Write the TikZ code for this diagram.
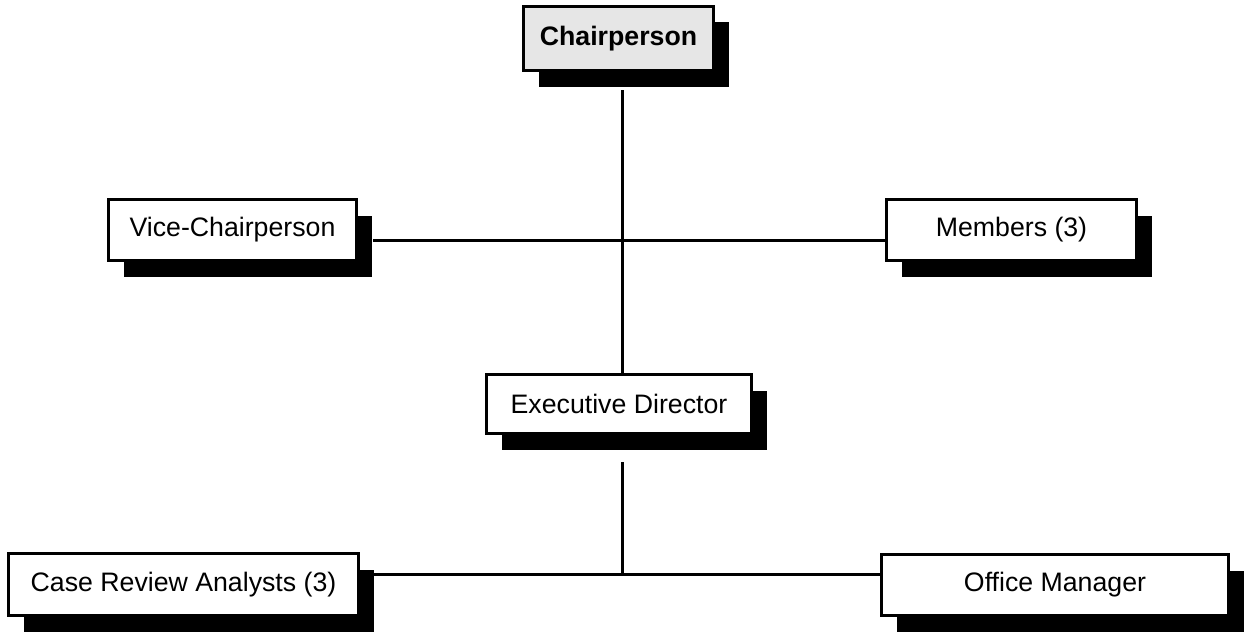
\documentclass[tikz,border=0pt]{standalone}
\usepackage{fontspec}
\setmainfont{Liberation Sans}
\usetikzlibrary{shadows}
\begin{document}
\begin{tikzpicture}[x=1pt,y=-1pt,
  orgbox/.style={draw=black, line width=3pt, fill=white, inner sep=0pt,
    font=\fontsize{26.7}{32}\selectfont,
    drop shadow={fill=black, opacity=1, shadow xshift=15pt, shadow yshift=-16pt}},
  conn/.style={line width=3pt}]
\useasboundingbox (0,0) rectangle (1244,634);
% nodes
\node[orgbox, fill={rgb,255:red,230;green,230;blue,230}, font=\fontsize{26.7}{32}\selectfont\bfseries,
  minimum width=190pt, minimum height=64pt] (chair) at (618.5,38.5) {Chairperson};
\node[orgbox, minimum width=248pt, minimum height=61pt] (vice) at (232.5,230) {Vice-Chairperson};
\node[orgbox, minimum width=250pt, minimum height=61pt] (members) at (1011.5,230) {Members (3)};
\node[orgbox, minimum width=265pt, minimum height=59pt] (ed) at (619,404) {Executive Director};
\node[orgbox, minimum width=350pt, minimum height=62pt] (cra) at (183.5,584.5) {Case Review Analysts (3)};
\node[orgbox, minimum width=347pt, minimum height=61pt] (om) at (1055,585) {Office Manager};
% junction coordinates
\coordinate (top) at (622,90);
\coordinate (midrow) at (622,240);
\coordinate (edtop) at (622,374);
\coordinate (edbot) at (622,462);
\coordinate (bottomrow) at (622,574);
% connectors
\draw[conn] (top) -- (edtop);
\draw[conn] (vice.east |- midrow) ++(15,0) -- (members.west |- midrow);
\draw[conn] (edbot) -- (bottomrow);
\draw[conn] (cra.east |- bottomrow) ++(14,0) -- (om.west |- bottomrow);
\end{tikzpicture}
\end{document}
